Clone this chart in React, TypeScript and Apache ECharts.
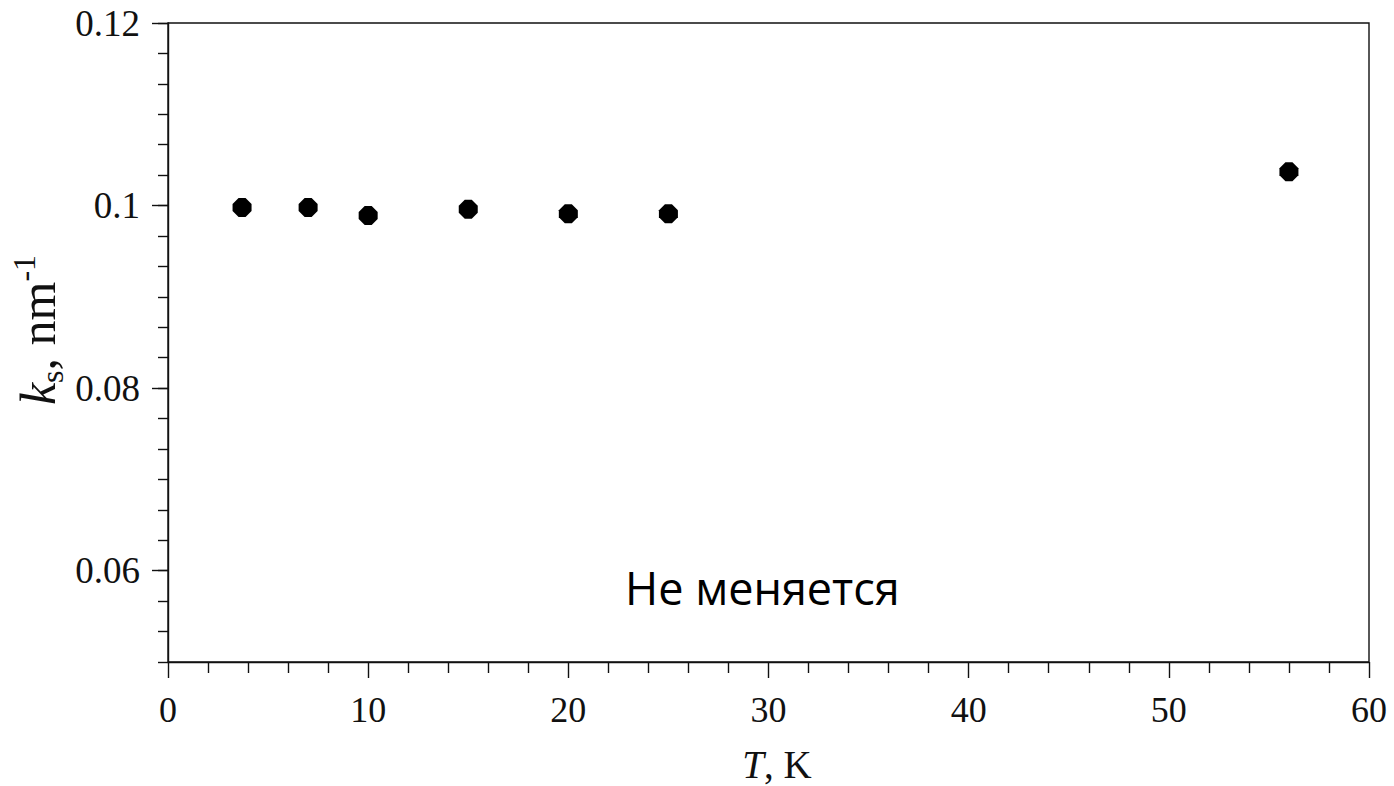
import React, { useEffect, useRef } from 'react';
import * as echarts from 'echarts';

// Data
const temperatures = [3.7, 7.0, 10.0, 15.0, 20.0, 25.0, 56.0];
const ksValues = [0.0998, 0.0998, 0.0989, 0.0996, 0.0991, 0.0991, 0.1037];

// Axis ranges and tick labels
const xRange = [0, 60];
const xTickInterval = 10;
const yRange = [0.05, 0.12];
const yTickLabels = [0.06, 0.08, 0.1, 0.12];
const yMinorStep = 0.02 / 6;
const yMinorTicks = Array.from(
  { length: Math.round((yRange[1] - yRange[0]) / yMinorStep) + 1 },
  (_, i) => Math.round((yRange[0] + i * yMinorStep) * 1e6) / 1e6
);

const annotation = 'Не меняется';

const SERIF = '"Liberation Serif", "Times New Roman", serif';
const INK = '#111';

export default function App() {
  const ref = useRef<HTMLDivElement>(null);

  useEffect(() => {
    if (!ref.current) return;
    const chart = echarts.init(ref.current, undefined, { renderer: 'svg' });

    const points = temperatures.map((t, i) => [t, ksValues[i]]);

    const axisLine = { show: true, lineStyle: { color: INK, width: 1.4 } };

    chart.setOption({
      animation: false,
      backgroundColor: '#fff',
      grid: {
        left: 168,
        right: 25,
        top: 23,
        bottom: 124,
        show: true,
        borderColor: INK,
        borderWidth: 1.4,
        containLabel: false,
      },
      xAxis: {
        type: 'value',
        min: xRange[0],
        max: xRange[1],
        interval: xTickInterval,
        axisLine,
        axisTick: { show: true, inside: false, length: 16, lineStyle: { color: INK, width: 1.4 } },
        minorTick: { show: true, splitNumber: 5, length: 11, lineStyle: { color: INK, width: 1.4 } },
        axisLabel: { fontFamily: SERIF, fontSize: 36, color: INK, margin: 30 },
        splitLine: { show: false },
        minorSplitLine: { show: false },
      },
      yAxis: [
        {
          type: 'value',
          position: 'left',
          min: yRange[0],
          max: yRange[1],
          axisLine,
          axisTick: {
            show: true,
            inside: false,
            length: 16,
            customValues: yTickLabels,
            lineStyle: { color: INK, width: 1.4 },
          },
          axisLabel: {
            customValues: yTickLabels,
            fontFamily: SERIF,
            fontSize: 37,
            color: INK,
            margin: 28,
            formatter: (v: number) => String(Math.round(v * 1000) / 1000),
          },
          splitLine: { show: false },
        },
        {
          type: 'value',
          position: 'left',
          offset: 0,
          min: yRange[0],
          max: yRange[1],
          axisLine: { show: false },
          axisTick: {
            show: true,
            inside: false,
            length: 10,
            customValues: yMinorTicks,
            lineStyle: { color: INK, width: 1.4 },
          },
          axisLabel: { show: false },
          splitLine: { show: false },
        },
      ],
      series: [
        {
          type: 'scatter',
          xAxisIndex: 0,
          yAxisIndex: 0,
          data: points,
          symbol: 'path://M-3.5,-9.5L3.5,-9.5L9.5,-3.5L9.5,3.5L3.5,9.5L-3.5,9.5L-9.5,3.5L-9.5,-3.5Z',
          symbolSize: 19,
          itemStyle: { color: '#000', opacity: 1 },
        },
      ],
      graphic: [
        {
          type: 'text',
          x: 38,
          y: 330,
          rotation: Math.PI / 2,
          style: {
            text: '{k|k}{s|s}{m|, nm}{p|-1}',
            fill: INK,
            align: 'center',
            verticalAlign: 'middle',
            fontFamily: SERIF,
            rich: {
              k: { fontFamily: SERIF, fontStyle: 'italic', fontSize: 50, lineHeight: 60, fill: INK },
              s: { fontFamily: SERIF, fontSize: 32, lineHeight: 34, verticalAlign: 'bottom', fill: INK },
              m: { fontFamily: SERIF, fontSize: 50, lineHeight: 60, fill: INK },
              p: { fontFamily: SERIF, fontSize: 32, lineHeight: 32, verticalAlign: 'top', fill: INK },
            },
          },
        },
        {
          type: 'text',
          x: 777,
          y: 764,
          style: {
            text: '{t|T}{r|, K}',
            fill: INK,
            align: 'center',
            verticalAlign: 'middle',
            fontFamily: SERIF,
            rich: {
              t: { fontFamily: SERIF, fontStyle: 'italic', fontSize: 39, fill: INK },
              r: { fontFamily: SERIF, fontSize: 39, fill: INK },
            },
          },
        },
        {
          type: 'text',
          x: 625,
          y: 587,
          style: {
            text: annotation,
            fill: '#000',
            align: 'left',
            verticalAlign: 'middle',
            fontFamily: '"Open Sans", "Noto Sans", sans-serif',
            fontSize: 45,
          },
        },
      ],
    });

    return () => chart.dispose();
  }, []);

  return (
    <div
      ref={ref}
      style={{ position: 'absolute', left: 0, top: 0, width: 1394, height: 786 }}
    />
  );
}
